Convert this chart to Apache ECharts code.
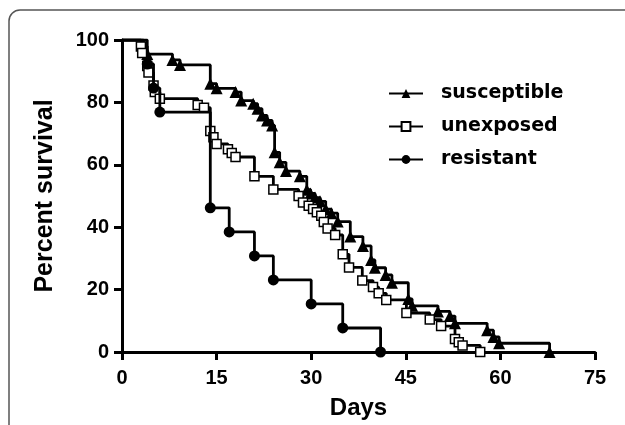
<!DOCTYPE html>
<html>
<head>
<meta charset="utf-8">
<script src="https://cdn.jsdelivr.net/npm/echarts@6/dist/echarts.min.js"></script>
<style>
html,body{margin:0;padding:0;background:#fff;}
#chart{width:625px;height:425px;}
</style>
</head>
<body>
<div id="chart"></div>
<script>
// Kaplan-Meier data (day, percent survival)
const susceptibleDays = [0, 3.4, 4.0, 8.0, 9.2, 14.0, 15.0, 18.0, 18.9, 20.8, 21.5, 22.2, 23.0, 23.8, 24.2, 25.0, 26.0, 28.2, 29.3, 29.9, 30.6, 31.4, 32.3, 33.2, 34.2, 36.2, 38.2, 39.5, 40.1, 41.8, 42.8, 45.4, 46.0, 50.1, 52.0, 52.8, 57.9, 58.9, 59.8, 67.8];
const susceptiblePct  = [100, 98.0, 95.5, 93.6, 92.0, 86.0, 84.5, 83.3, 80.6, 79.6, 78.0, 75.8, 74.2, 72.6, 64.0, 60.8, 58.0, 56.3, 52.0, 50.8, 49.5, 48.3, 45.8, 44.5, 41.8, 37.0, 34.0, 29.5, 27.0, 24.7, 22.2, 17.0, 14.8, 13.0, 11.5, 9.2, 7.0, 4.8, 2.8, 0];

const unexposedDays = [0, 3.0, 3.2, 4.0, 4.2, 5.0, 5.2, 6.0, 12.0, 13.0, 14.0, 14.5, 15.0, 16.8, 17.4, 18.0, 21.0, 24.0, 28.0, 28.7, 29.6, 30.3, 30.9, 31.6, 32.0, 32.6, 33.8, 35.0, 36.0, 38.1, 39.8, 40.7, 41.9, 45.1, 48.8, 50.6, 52.8, 53.4, 54.0, 56.8];
const unexposedPct  = [100, 97.9, 95.8, 91.7, 89.6, 85.4, 83.3, 81.2, 79.2, 78.3, 70.8, 68.8, 66.7, 65.0, 63.8, 62.5, 56.3, 52.1, 50.0, 47.9, 46.9, 45.8, 44.8, 43.7, 41.7, 39.6, 37.5, 31.3, 27.1, 22.9, 20.8, 18.8, 16.7, 12.5, 10.4, 8.3, 4.2, 3.1, 2.1, 0];

const resistantDays = [0, 4.0, 5.0, 6.0, 14.0, 17.0, 21.0, 24.0, 30.0, 35.0, 41.0];
const resistantPct  = [100, 92.3, 84.6, 76.9, 46.2, 38.5, 30.8, 23.1, 15.4, 7.7, 0];

const seriesNames = ['susceptible', 'unexposed', 'resistant'];
const xTicks = [0, 15, 30, 45, 60, 75];
const yTicks = [0, 20, 40, 60, 80, 100];

function km(days, pct) {
  return days.map((d, i) => i === 0 ? {value: [d, pct[i]], symbol: 'none'} : [d, pct[i]]);
}

const font = '"Liberation Sans", Arial, sans-serif';
const chart = echarts.init(document.getElementById('chart'), null, {renderer: 'canvas'});

const lineStyle = {color: '#000', width: 2.8};

chart.setOption({
  animation: false,
  backgroundColor: '#fff',
  graphic: [{
    type: 'rect',
    shape: {x: 9, y: 10, width: 700, height: 500, r: 11},
    style: {fill: 'none', stroke: '#555', lineWidth: 1.5},
    z: 0
  }],
  grid: {left: 122, right: 30, top: 40, bottom: 73, containLabel: false},
  legend: {
    orient: 'vertical',
    left: 383,
    top: 78,
    itemWidth: 34,
    itemHeight: 11,
    itemGap: 12,
    data: seriesNames,
    textStyle: {
      fontFamily: '"DejaVu Sans", sans-serif',
      fontWeight: 'bold',
      fontSize: 19,
      lineHeight: 21,
      color: '#000',
      padding: [0, 0, 0, 13]
    }
  },
  xAxis: {
    type: 'value',
    min: 0, max: 75, interval: 15,
    name: 'Days',
    nameLocation: 'middle',
    nameGap: 44,
    nameTextStyle: {fontFamily: font, fontWeight: 'bold', fontSize: 24, color: '#000'},
    axisLine: {lineStyle: {color: '#000', width: 3}},
    axisTick: {show: true, length: 8, lineStyle: {color: '#000', width: 3}},
    axisLabel: {fontFamily: font, fontWeight: 'bold', fontSize: 20, color: '#000', margin: 16,
      formatter: v => xTicks.includes(v) ? String(v) : ''},
    splitLine: {show: false}
  },
  yAxis: {
    type: 'value',
    min: 0, max: 100, interval: 20,
    name: 'Percent survival',
    nameLocation: 'middle',
    nameGap: 64,
    nameTextStyle: {fontFamily: font, fontWeight: 'bold', fontSize: 25, color: '#000'},
    axisLine: {show: true, lineStyle: {color: '#000', width: 3}},
    axisTick: {show: true, length: 8, lineStyle: {color: '#000', width: 3}},
    axisLabel: {fontFamily: font, fontWeight: 'bold', fontSize: 20, color: '#000', margin: 13,
      formatter: v => yTicks.includes(v) ? String(v) : ''},
    splitLine: {show: false}
  },
  series: [
    {
      name: seriesNames[0], type: 'line', step: 'end',
      data: km(susceptibleDays, susceptiblePct),
      symbol: 'triangle', symbolSize: 12, showAllSymbol: true,
      lineStyle: lineStyle,
      itemStyle: {color: '#000', borderColor: '#000', borderWidth: 0},
      z: 3
    },
    {
      name: seriesNames[1], type: 'line', step: 'end',
      data: km(unexposedDays, unexposedPct),
      symbol: 'rect', symbolSize: 9, showAllSymbol: true,
      lineStyle: lineStyle,
      itemStyle: {color: '#fff', borderColor: '#000', borderWidth: 1.5},
      z: 4
    },
    {
      name: seriesNames[2], type: 'line', step: 'end',
      data: km(resistantDays, resistantPct),
      symbol: 'circle', symbolSize: 11, showAllSymbol: true,
      lineStyle: lineStyle,
      itemStyle: {color: '#000', borderColor: '#000', borderWidth: 0},
      z: 5
    }
  ]
});
</script>
</body>
</html>
